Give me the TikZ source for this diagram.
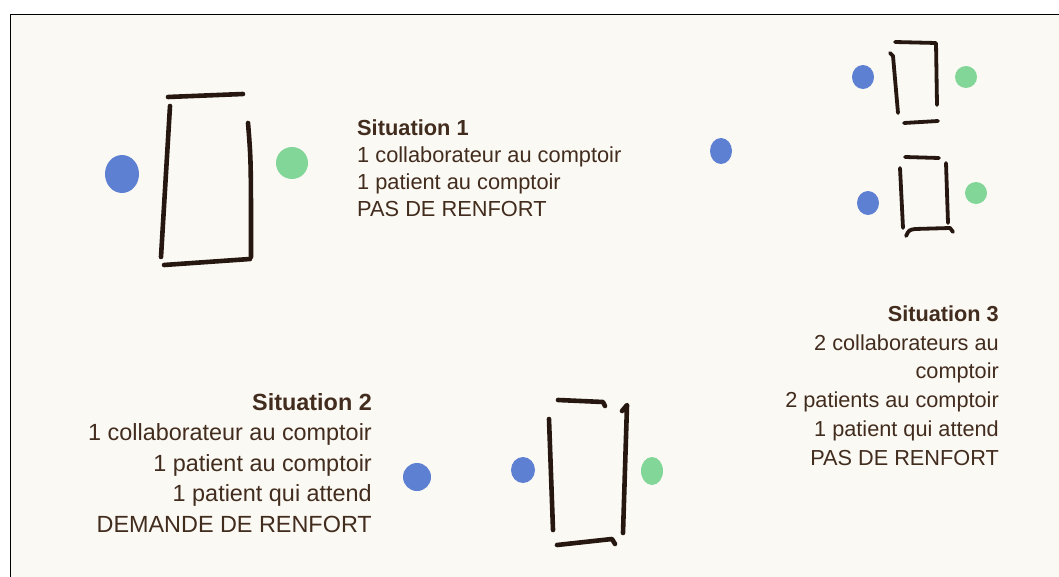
\documentclass[tikz,border=0pt]{standalone}
\usepackage{fontspec}
\setmainfont{Liberation Sans}
\definecolor{ink}{RGB}{38,24,16}
\definecolor{txt}{RGB}{66,44,30}
\definecolor{paper}{RGB}{251,249,244}
\definecolor{dotblue}{RGB}{94,128,210}
\definecolor{dotgreen}{RGB}{130,214,152}
\tikzset{
  pen/.style={draw=ink, line width=4.6pt, line cap=round, line join=round},
  bdot/.style={fill=dotblue},
  gdot/.style={fill=dotgreen},
  lbl/.style={text=txt, inner sep=0pt},
}
\begin{document}
\begin{tikzpicture}[x=1pt,y=-1pt]
\useasboundingbox (0,0) rectangle (1059,577);
\fill[white] (0,0) rectangle (1059,577);
\fill[paper] (10,15) rectangle (1059,577);
\draw[black, line width=1pt] (10,577) -- (10,15) -- (1059,15);

% ---- Situation 1
\draw[pen] (168,97) -- (243,94);
\draw[pen] (170,106) -- (161,257);
\draw[pen] (248,123) .. controls (251,160) .. (251,257);
\draw[pen] (164,265) -- (250,259);
\fill[bdot] (122,174) ellipse (17 and 19);
\fill[gdot] (292,163) ellipse (16 and 16);
\node[lbl, anchor=base west, align=left, font=\fontsize{21.8}{27.3}\selectfont] (s1) at (357,217)
 {\textbf{Situation 1}\\1 collaborateur au comptoir\\1 patient au comptoir\\PAS DE RENFORT};

% ---- Situation 3
\draw[pen, line width=3.8pt] (895,42) -- (936,43) -- (937,105);
\draw[pen, line width=3.8pt] (890,53) -- (893,56) -- (898,113);
\draw[pen, line width=3.8pt] (904,123) -- (938,121);
\draw[pen, line width=3.8pt] (905,157) -- (939,158);
\draw[pen, line width=3.8pt] (900,168) -- (903,228);
\draw[pen, line width=3.8pt] (946,163) -- (948,223);
\draw[pen, line width=3.8pt] (906,236) .. controls (909,230) .. (915,229) -- (950,228) -- (953,232);
\fill[bdot] (863,77) ellipse (11 and 12);
\fill[gdot] (966,77) ellipse (11 and 11);
\fill[bdot] (721,151) ellipse (11 and 13);
\fill[bdot] (868,203) ellipse (11 and 12);
\fill[gdot] (976,193) ellipse (11 and 11);
\node[lbl, anchor=base east, align=right, font=\fontsize{21.7}{28.7}\selectfont] (s3) at (999,465)
 {\textbf{Situation 3}\\2 collaborateurs au\\comptoir\\2 patients au comptoir\\1 patient qui attend\\PAS DE RENFORT};

% ---- Situation 2
\draw[pen] (558,400) -- (603,402) -- (605,406);
\draw[pen] (549,419) -- (553,530);
\draw[pen] (622,411) -- (627,405) -- (623,533);
\draw[pen] (557,545) -- (612,539) -- (615,544);
\fill[bdot] (417,477) ellipse (14 and 14);
\fill[bdot] (523,470) ellipse (12 and 13);
\fill[gdot] (652,471) ellipse (11 and 14);
\node[lbl, anchor=base east, align=right, font=\fontsize{23.4}{30.4}\selectfont] (s2) at (372,532)
 {\textbf{Situation 2}\\1 collaborateur au comptoir\\1 patient au comptoir\\1 patient qui attend\\DEMANDE DE RENFORT};
\end{tikzpicture}
\end{document}
